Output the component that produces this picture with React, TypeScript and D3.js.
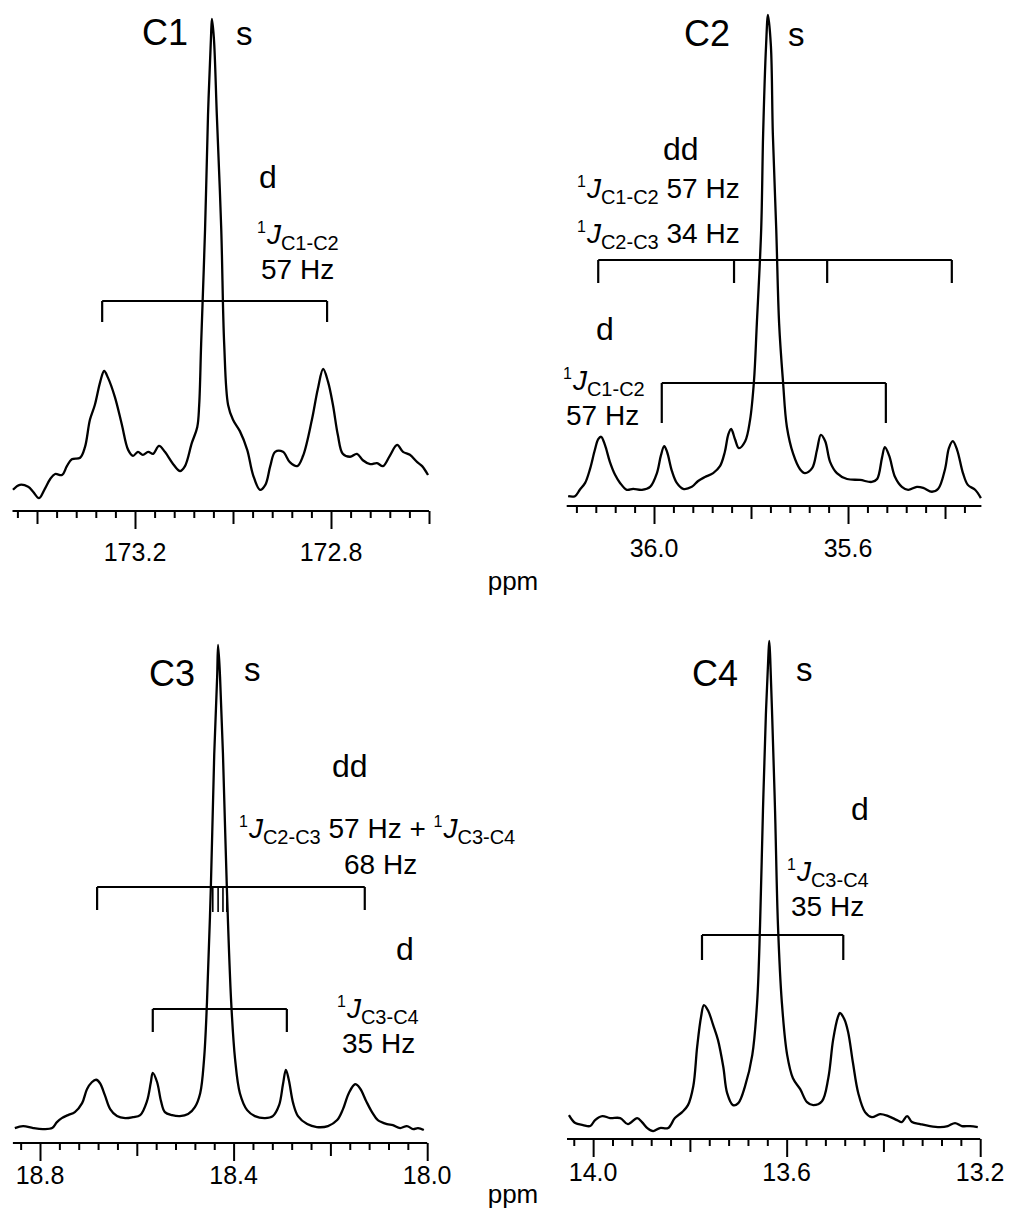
import React, { useEffect, useRef } from 'react'
import * as d3 from 'd3'

const FONT = '"Liberation Sans", Arial, Helvetica, sans-serif'

// ---- C1 spectrum ----
const c1Ppm = [173.449, 173.435, 173.418, 173.408, 173.396, 173.384, 173.373, 173.363, 173.349, 173.339,
  173.329, 173.312, 173.302, 173.292, 173.282, 173.271, 173.263, 173.255, 173.241, 173.227,
  173.214, 173.204, 173.194, 173.184, 173.173, 173.163, 173.151, 173.139, 173.122, 173.108,
  173.098, 173.084, 173.073, 173.069, 173.065, 173.057, 173.051, 173.045, 173.043, 173.039,
  173.033, 173.024, 173.018, 173.010, 173.000, 172.986, 172.971, 172.959, 172.945, 172.934,
  172.924, 172.914, 172.898, 172.884, 172.869, 172.857, 172.839, 172.827, 172.816, 172.806,
  172.796, 172.786, 172.776, 172.761, 172.747, 172.735, 172.720, 172.706, 172.694, 172.680,
  172.665, 172.653, 172.639, 172.624, 172.614, 172.602]
const c1Int = [4.3, 5.3, 4.9, 3.9, 2.6, 4.5, 6.5, 7.5, 7.3, 9.1,
  10.5, 10.8, 13.0, 18.5, 21.5, 26.2, 28.4, 27.0, 23.1, 17.6,
  12.4, 11.2, 12.0, 11.4, 12.0, 11.6, 13.2, 12.0, 9.5, 8.1,
  9.1, 13.8, 17.0, 21.5, 33.9, 57.2, 80.3, 95.9, 99.8, 95.9,
  80.3, 57.2, 33.9, 21.5, 18.5, 16.2, 12.4, 7.3, 4.3, 5.3,
  9.1, 12.0, 12.0, 9.9, 9.1, 11.2, 18.5, 24.7, 28.8, 26.2,
  21.5, 15.4, 11.6, 11.0, 11.6, 10.3, 9.5, 9.7, 9.1, 11.2,
  13.4, 12.0, 11.4, 9.9, 9.1, 7.3]
const c1Doublet = [173.267, 172.808]
const c1Labels = ['173.2', '172.8']

// ---- C2 spectrum ----
const c2Ppm = [36.177, 36.163, 36.153, 36.142, 36.132, 36.122, 36.115, 36.109, 36.101, 36.091,
  36.080, 36.070, 36.056, 36.043, 36.025, 36.008, 35.994, 35.986, 35.979, 35.973,
  35.963, 35.953, 35.940, 35.922, 35.909, 35.895, 35.878, 35.864, 35.854, 35.847,
  35.841, 35.833, 35.825, 35.812, 35.802, 35.794, 35.788, 35.779, 35.775, 35.769,
  35.765, 35.759, 35.755, 35.748, 35.742, 35.734, 35.726, 35.713, 35.699, 35.689,
  35.674, 35.664, 35.656, 35.647, 35.637, 35.623, 35.602, 35.575, 35.551, 35.540,
  35.530, 35.524, 35.515, 35.503, 35.489, 35.476, 35.458, 35.445, 35.427, 35.414,
  35.400, 35.392, 35.384, 35.375, 35.363, 35.353, 35.338, 35.326]
const c2Int = [2.0, 2.0, 3.3, 4.7, 7.5, 11.4, 13.6, 14.1, 12.4, 9.0,
  6.3, 4.7, 3.3, 3.5, 3.3, 3.9, 6.7, 10.2, 12.2, 11.0,
  7.1, 4.7, 3.5, 3.9, 5.1, 5.9, 6.7, 8.1, 11.0, 14.5,
  15.7, 13.6, 11.8, 13.2, 17.5, 25.3, 37.1, 56.4, 75.8, 93.7,
  100, 93.7, 75.8, 56.4, 37.1, 25.3, 16.1, 10.6, 7.5, 6.7,
  7.7, 11.4, 14.5, 13.2, 9.0, 6.7, 5.5, 5.3, 4.9, 5.5,
  9.8, 12.0, 10.2, 5.9, 3.9, 3.3, 3.9, 3.7, 2.9, 3.5,
  7.5, 11.8, 13.2, 11.4, 6.7, 4.3, 3.3, 1.6]
const c2DoubletOfDoublets = [36.115, 35.835, 35.643, 35.386]
const c2Doublet = [35.984, 35.522]
const c2Labels = ['36.0', '35.6']

// ---- C3 spectrum ----
const c3Ppm = [18.852, 18.835, 18.814, 18.794, 18.775, 18.765, 18.755, 18.742, 18.728, 18.713,
  18.703, 18.693, 18.684, 18.676, 18.666, 18.655, 18.641, 18.624, 18.608, 18.593,
  18.579, 18.571, 18.567, 18.558, 18.550, 18.542, 18.527, 18.511, 18.494, 18.480,
  18.469, 18.461, 18.455, 18.447, 18.440, 18.434, 18.432, 18.428, 18.422, 18.414,
  18.405, 18.397, 18.387, 18.372, 18.356, 18.335, 18.319, 18.306, 18.298, 18.292,
  18.286, 18.277, 18.267, 18.248, 18.228, 18.205, 18.186, 18.174, 18.162, 18.149,
  18.139, 18.126, 18.114, 18.102, 18.083, 18.071, 18.056, 18.042, 18.029, 18.019, 18.007]
const c3Int = [3.0, 3.4, 3.0, 2.8, 3.0, 4.2, 5.0, 5.6, 6.2, 8.0,
  10.8, 12.2, 12.7, 12.0, 9.6, 6.8, 5.4, 5.0, 5.2, 5.6,
  8.4, 12.2, 14.1, 12.2, 8.4, 6.2, 5.6, 5.4, 5.8, 7.2,
  10.0, 16.9, 28.3, 51.4, 78.1, 93.6, 100, 93.6, 78.1, 51.4,
  28.3, 16.9, 10.0, 6.6, 5.4, 5.0, 5.4, 7.6, 11.8, 14.7,
  12.7, 8.0, 5.4, 3.8, 3.2, 3.4, 4.6, 6.8, 10.0, 11.8,
  11.0, 8.4, 6.2, 4.6, 3.8, 3.6, 3.0, 3.4, 2.8, 3.0, 2.6]
const c3DoubletOfDoublets = [18.682, 18.129]
const c3InnerLines = [18.443, 18.432, 18.422, 18.414]
const c3Doublet = [18.567, 18.290]
const c3Labels = ['18.8', '18.4', '18.0']

// ---- C4 spectrum ----
const c4Ppm = [14.050, 14.037, 14.021, 14.006, 13.996, 13.981, 13.965, 13.944, 13.928, 13.909,
  13.899, 13.888, 13.876, 13.862, 13.845, 13.831, 13.816, 13.804, 13.793, 13.785,
  13.777, 13.771, 13.762, 13.752, 13.742, 13.731, 13.723, 13.711, 13.700, 13.686,
  13.671, 13.661, 13.655, 13.649, 13.643, 13.638, 13.636, 13.634, 13.630, 13.624,
  13.618, 13.610, 13.599, 13.587, 13.572, 13.558, 13.545, 13.527, 13.514, 13.504,
  13.494, 13.490, 13.481, 13.473, 13.463, 13.452, 13.438, 13.424, 13.407, 13.390,
  13.372, 13.362, 13.351, 13.341, 13.324, 13.304, 13.283, 13.267, 13.252, 13.238,
  13.221, 13.205]
const c4Int = [4.8, 3.2, 2.8, 2.6, 3.8, 4.6, 4.2, 4.2, 3.0, 4.2,
  3.4, 2.2, 1.6, 2.2, 2.2, 4.2, 5.4, 6.8, 10.6, 18.5,
  24.5, 26.9, 25.7, 22.9, 19.9, 14.5, 9.2, 6.8, 7.2, 10.6,
  16.9, 27.5, 43.0, 65.9, 85.1, 96.6, 100, 96.6, 85.1, 65.9,
  43.0, 27.5, 16.9, 12.2, 10.0, 7.4, 6.8, 7.6, 12.2, 19.9,
  24.5, 25.3, 24.1, 21.5, 15.3, 9.2, 5.4, 4.4, 5.0, 4.6,
  3.8, 3.4, 4.6, 3.4, 3.0, 2.6, 2.4, 2.6, 3.2, 2.6,
  2.6, 2.4]
const c4Doublet = [13.775, 13.483]
const c4Labels = ['14.0', '13.6', '13.2']

const panels = [
  { ppm: c1Ppm, int: c1Int, domain: [173.45, 172.6], x0: 12.5, x1: 429, axisY: 511, topY: 18, labels: c1Labels, labelY: 561,
    brackets: [{ lines: c1Doublet, y: 301, len: 21 }] },
  { ppm: c2Ppm, int: c2Int, domain: [36.18, 35.325], x0: 566.7, x1: 981.4, axisY: 506, topY: 15, labels: c2Labels, labelY: 557,
    brackets: [{ lines: c2DoubletOfDoublets, y: 260, len: 23 }, { lines: c2Doublet, y: 383, len: 40 }] },
  { ppm: c3Ppm, int: c3Int, domain: [18.856, 18.0], x0: 12.9, x1: 427.2, axisY: 1143, topY: 645, labels: c3Labels, labelY: 1184,
    brackets: [{ lines: c3DoubletOfDoublets, y: 887, len: 23 }, { lines: c3Doublet, y: 1009, len: 23 }],
    inner: { lines: c3InnerLines, y: 887, len: 25 } },
  { ppm: c4Ppm, int: c4Int, domain: [14.054, 13.2], x0: 567, x1: 980.2, axisY: 1139, topY: 641, labels: c4Labels, labelY: 1181,
    brackets: [{ lines: c4Doublet, y: 935, len: 25 }] },
]

// segments: [kind, text, dx]
type Seg = [string, string, number?]

const rich = (g: any, x: number, y: number, segs: Seg[], size = 28) => {
  const t = g.append('text').attr('x', x).attr('y', y)
    .attr('font-family', FONT).attr('font-size', size).style('white-space', 'pre')
  let cur = 0
  segs.forEach(([kind, txt, dx]) => {
    const off = kind === 'sup' ? -11 : kind === 'sub' ? 6 : 0
    const s = t.append('tspan').attr('dy', off - cur).text(txt)
    cur = off
    if (dx) s.attr('dx', dx)
    if (kind === 'sup') s.attr('font-size', 16)
    if (kind === 'sub') s.attr('font-size', 20)
    if (kind === 'it') s.attr('font-style', 'italic')
  })
}

const plain = (g: any, x: number, y: number, txt: string, size: number) =>
  g.append('text').attr('x', x).attr('y', y).attr('font-family', FONT).attr('font-size', size).text(txt)

export default function App() {
  const ref = useRef<SVGSVGElement>(null)

  useEffect(() => {
    const svg = d3.select(ref.current)
    svg.selectAll('*').remove()

    panels.forEach(p => {
      const g = svg.append('g')
      const x = d3.scaleLinear().domain(p.domain).range([p.x0, p.x1])
      const y = d3.scaleLinear().domain([0, 100]).range([p.axisY, p.topY])

      const pts = p.ppm.map((v, i) => [v, p.int[i]])
      const line = d3.line<number[]>().x(d => x(d[0])).y(d => y(d[1])).curve(d3.curveCatmullRom.alpha(0.5))
      g.append('path').attr('d', line(pts)).attr('fill', 'none').attr('stroke', '#000')
        .attr('stroke-width', 2.3).attr('stroke-linejoin', 'round')

      // ticks every 0.04 ppm, longer every 0.2, labelled every 0.4
      const lo = Math.min(...p.domain), hi = Math.max(...p.domain)
      const ks = d3.range(Math.ceil(lo / 0.04 - 1e-6), Math.floor(hi / 0.04 + 1e-6) + 1)
      const minor = ks.filter(k => k % 5 !== 0).map(k => k * 0.04)
      const medium = ks.filter(k => k % 5 === 0 && k % 10 !== 0).map(k => k * 0.04)
      const major = p.labels.map(Number)

      const ax = g.append('g').attr('transform', `translate(0,${p.axisY})`)
      ;[[minor, 7], [medium, 13], [major, 18]].forEach(([vals, size]: any) => {
        ax.append('g').call(d3.axisBottom(x).tickValues(vals).tickSize(size).tickSizeOuter(0).tickFormat(() => ''))
          .call(a => a.select('.domain').remove())
          .call(a => a.selectAll('line').attr('stroke', '#000').attr('stroke-width', 2))
      })
      ax.append('line').attr('x1', p.x0).attr('x2', p.x1).attr('stroke', '#000').attr('stroke-width', 2)

      g.selectAll('text.lab').data(p.labels).join('text').attr('class', 'lab')
        .attr('x', d => x(+d)).attr('y', p.labelY).attr('text-anchor', 'middle')
        .attr('font-family', FONT).attr('font-size', 25).text(d => d)

      p.brackets.forEach(b => {
        const xs = b.lines.map(v => x(v))
        g.append('line').attr('x1', d3.min(xs)).attr('x2', d3.max(xs)).attr('y1', b.y).attr('y2', b.y)
          .attr('stroke', '#000').attr('stroke-width', 2)
        g.selectAll(null).data(xs).join('line').attr('x1', d => d).attr('x2', d => d)
          .attr('y1', b.y).attr('y2', b.y + b.len).attr('stroke', '#000').attr('stroke-width', 2.2)
      })
      if (p.inner) {
        g.selectAll(null).data(p.inner.lines).join('line').attr('x1', d => x(d)).attr('x2', d => x(d))
          .attr('y1', p.inner.y).attr('y2', p.inner.y + p.inner.len).attr('stroke', '#000').attr('stroke-width', 1.6)
      }
    })

    // ppm axis captions
    svg.append('text').attr('x', 513).attr('y', 590).attr('text-anchor', 'middle')
      .attr('font-family', FONT).attr('font-size', 26).text('ppm')
    svg.append('text').attr('x', 513).attr('y', 1203).attr('text-anchor', 'middle')
      .attr('font-family', FONT).attr('font-size', 26).text('ppm')

    // C1 annotations
    plain(svg, 142, 45, 'C1', 36)
    plain(svg, 236, 45, 's', 33)
    plain(svg, 259, 188, 'd', 32)
    rich(svg, 257, 244, [['sup', '1'], ['it', 'J', 1], ['sub', 'C1-C2']])
    plain(svg, 261, 279, '57 Hz', 28)

    // C2 annotations
    plain(svg, 684, 46, 'C2', 36)
    plain(svg, 788, 46, 's', 33)
    plain(svg, 663, 160, 'dd', 32)
    rich(svg, 577, 198, [['sup', '1'], ['it', 'J', 1], ['sub', 'C1-C2'], ['txt', ' 57 Hz']])
    rich(svg, 577, 243, [['sup', '1'], ['it', 'J', 1], ['sub', 'C2-C3'], ['txt', ' 34 Hz']])
    plain(svg, 596, 340, 'd', 32)
    rich(svg, 563, 390, [['sup', '1'], ['it', 'J', 1], ['sub', 'C1-C2']])
    plain(svg, 566, 425, '57 Hz', 28)

    // C3 annotations
    plain(svg, 149, 686, 'C3', 36)
    plain(svg, 244, 681, 's', 33)
    plain(svg, 332, 777, 'dd', 32)
    rich(svg, 239, 838, [['sup', '1'], ['it', 'J', 1], ['sub', 'C2-C3'], ['txt', ' 57 Hz + '], ['sup', '1'], ['it', 'J', 1], ['sub', 'C3-C4']])
    plain(svg, 344, 874, '68 Hz', 28)
    plain(svg, 396, 960, 'd', 32)
    rich(svg, 337, 1018, [['sup', '1'], ['it', 'J', 1], ['sub', 'C3-C4']])
    plain(svg, 342, 1053, '35 Hz', 28)

    // C4 annotations
    plain(svg, 692, 686, 'C4', 36)
    plain(svg, 796, 681, 's', 33)
    plain(svg, 851, 820, 'd', 32)
    rich(svg, 787, 881, [['sup', '1'], ['it', 'J', 1], ['sub', 'C3-C4']])
    plain(svg, 791, 916, '35 Hz', 28)
  }, [])

  return (
    <svg ref={ref} width={1009} height={1209}
      style={{ position: 'absolute', left: 0, top: 0, background: '#fff' }} />
  )
}
